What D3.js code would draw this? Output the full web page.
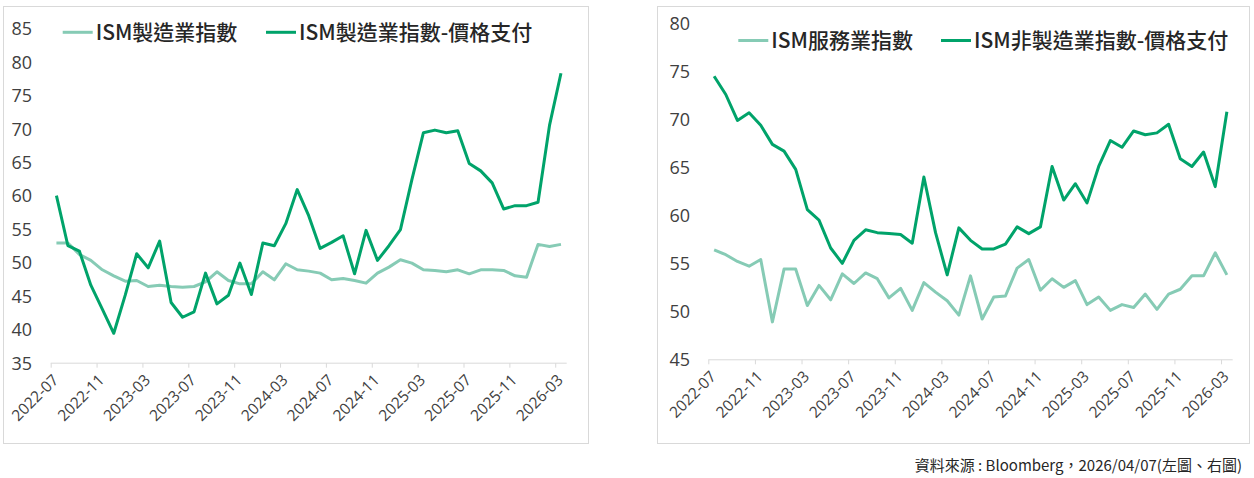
<!DOCTYPE html>
<html><head><meta charset="utf-8">
<script src="https://cdn.jsdelivr.net/npm/d3@7"></script>
<style>
html,body{margin:0;padding:0;background:#fff;}
svg{display:block;}
</style></head>
<body>
<svg id="chart" width="1254" height="478"></svg>
<script>
// ---- data ----
const months = ["2022-07","2022-08","2022-09","2022-10","2022-11","2022-12",
"2023-01","2023-02","2023-03","2023-04","2023-05","2023-06","2023-07","2023-08","2023-09","2023-10","2023-11","2023-12",
"2024-01","2024-02","2024-03","2024-04","2024-05","2024-06","2024-07","2024-08","2024-09","2024-10","2024-11","2024-12",
"2025-01","2025-02","2025-03","2025-04","2025-05","2025-06","2025-07","2025-08","2025-09","2025-10","2025-11","2025-12",
"2026-01","2026-02","2026-03"];
const tickLabels = ["2022-07","2022-11","2023-03","2023-07","2023-11","2024-03","2024-07","2024-11","2025-03","2025-07","2025-11","2026-03"];

const mfgPMI = [52.9,52.9,51.2,50.3,48.9,48.0,47.2,47.3,46.4,46.6,46.4,46.3,46.4,47.1,48.6,47.3,46.8,46.8,
48.6,47.4,49.8,48.9,48.7,48.4,47.4,47.6,47.3,46.9,48.4,49.3,
50.4,49.9,48.9,48.8,48.6,48.9,48.3,48.9,48.9,48.8,48.0,47.8,52.7,52.4,52.7];
const mfgPrices = [60.0,52.5,51.7,46.6,43.0,39.4,45.1,51.3,49.2,53.2,44.0,41.8,42.6,48.4,43.8,45.1,49.9,45.2,
52.9,52.5,55.8,60.9,57.0,52.1,53.0,54.0,48.3,54.8,50.3,52.5,
54.9,62.4,69.4,69.8,69.4,69.7,64.8,63.7,61.9,58.0,58.5,58.5,59.0,70.5,78.3];

const svcPMI = [56.4,55.9,55.2,54.7,55.4,48.9,54.4,54.4,50.6,52.7,51.2,53.9,52.9,54.0,53.4,51.4,52.4,50.1,
53.0,52.0,51.1,49.6,53.7,49.2,51.5,51.6,54.5,55.4,52.2,53.4,
52.5,53.2,50.7,51.5,50.1,50.7,50.4,51.8,50.2,51.8,52.3,53.7,53.7,56.1,53.8];
const svcPrices = [74.5,72.6,69.9,70.7,69.4,67.4,66.7,64.8,60.6,59.5,56.6,55.0,57.4,58.5,58.2,58.1,58.0,57.1,
64.0,58.2,53.8,58.7,57.4,56.5,56.5,57.0,58.8,58.1,58.8,65.1,
61.6,63.3,61.3,65.1,67.8,67.1,68.8,68.4,68.6,69.5,65.9,65.1,66.6,63.0,70.8];

const leftNames = ["ISM製造業指數","ISM製造業指數-價格支付"];
const rightNames = ["ISM服務業指數","ISM非製造業指數-價格支付"];
const leftTicksY = [35,40,45,50,55,60,65,70,75,80,85];
const rightTicksY = [45,50,55,60,65,70,75,80];
const sourceText = "資料來源 : Bloomberg，2026/04/07(左圖、右圖)";

// ---- style ----
const LIGHT = "#86cbb5", DARK = "#00a36a";
const svg = d3.select("#chart");
const tickFont = "'Open Sans','Noto Sans',sans-serif";
const cjkFont = "'Noto Sans CJK TC','Noto Sans CJK SC',sans-serif";

function panel(cfg){
  const g = svg.append("g");
  g.append("rect").attr("x",cfg.box[0]+0.5).attr("y",cfg.box[1]+0.5)
    .attr("width",cfg.box[2]-cfg.box[0]).attr("height",cfg.box[3]-cfg.box[1])
    .attr("fill","none").attr("stroke","#d9d9d9").attr("stroke-width",1);

  const x = d3.scaleLinear().domain([0, months.length]).range(cfg.xr);
  const y = d3.scaleLinear().domain(cfg.yd).range(cfg.yr);

  // x axis
  const xa = d3.axisBottom(x)
    .tickValues(tickLabels.map(t => months.indexOf(t)))
    .tickSize(5).tickSizeOuter(0)
    .tickFormat(i => months[i]);
  const gx = g.append("g").attr("transform",`translate(0,${cfg.yr[0]})`).call(xa);
  gx.select(".domain").attr("stroke","#d9d9d9").attr("d",`M${cfg.xr[0]},0.5H${cfg.xr[1]}`);
  gx.selectAll(".tick line").attr("stroke","#d9d9d9").attr("y1",0.5);
  gx.selectAll(".tick text")
    .attr("font-family",tickFont).attr("font-size",15.5).attr("fill","#404040")
    .attr("text-anchor","end").attr("dy",null).attr("y",null)
    .attr("dominant-baseline","central")
    .attr("transform","translate(4,14) rotate(-45)");

  // y axis (labels only)
  const ya = d3.axisLeft(y).tickValues(cfg.yt).tickSize(0).tickPadding(0);
  const gy = g.append("g").attr("transform",`translate(${cfg.ylx},0)`).call(ya);
  gy.select(".domain").remove();
  gy.selectAll(".tick text").attr("font-family",tickFont).attr("font-size",18)
    .attr("fill","#404040").attr("x",0).attr("dy","0.35em");

  const line = d3.line().x((d,i)=>x(i+0.5)).y(d=>y(d)).curve(d3.curveLinear);
  g.append("path").datum(cfg.s1).attr("d",line).attr("fill","none")
    .attr("stroke",LIGHT).attr("stroke-width",3).attr("stroke-linejoin","round");
  g.append("path").datum(cfg.s2).attr("d",line).attr("fill","none")
    .attr("stroke",DARK).attr("stroke-width",3).attr("stroke-linejoin","round");

  // legend
  const lg = g.append("g");
  cfg.legend.forEach((L,k)=>{
    lg.append("line").attr("x1",L.x).attr("x2",L.x+30).attr("y1",cfg.ly).attr("y2",cfg.ly)
      .attr("stroke",k===0?LIGHT:DARK).attr("stroke-width",3);
    lg.append("text").attr("x",L.x+33).attr("y",cfg.ly).attr("dy","0.36em")
      .attr("font-family",cjkFont).attr("font-size",21).attr("font-weight",500)
      .attr("fill","#262626").text(cfg.names[k]);
  });
}

panel({box:[3,6,588,443], xr:[50.7,566.7], yr:[362.7,28.5], yd:[35,85], yt:leftTicksY, ylx:32,
  s1:mfgPMI, s2:mfgPrices, names:leftNames, ly:32.3, legend:[{x:62.7},{x:266}]});
panel({box:[657,6,1249,443], xr:[708.3,1232.7], yr:[359.3,23.5], yd:[45,80], yt:rightTicksY, ylx:690,
  s1:svcPMI, s2:svcPrices, names:rightNames, ly:40.5, legend:[{x:738.3},{x:941}]});

svg.append("text").attr("x",1242).attr("y",466).attr("dy","0.35em").attr("text-anchor","end")
  .attr("font-family",cjkFont).attr("font-size",15).attr("fill","#262626").text(sourceText);
</script>
</body></html>
